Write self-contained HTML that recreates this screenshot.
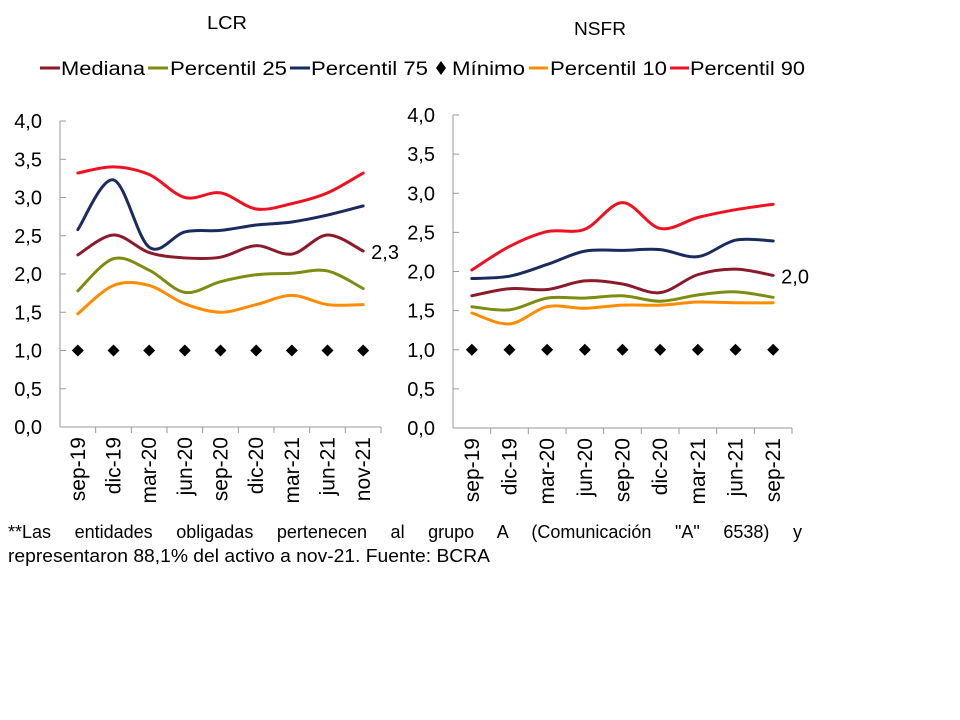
<!DOCTYPE html>
<html><head><meta charset="utf-8"><style>
html,body{margin:0;padding:0;background:#fff;width:960px;height:720px;overflow:hidden}
svg{display:block;font-family:"Liberation Sans",sans-serif}
</style></head><body>
<svg id="s" width="960" height="720" xmlns="http://www.w3.org/2000/svg">
<text x="227" y="29" font-size="18" text-anchor="middle" textLength="40" lengthAdjust="spacingAndGlyphs">LCR</text>
<text x="600" y="35" font-size="18" text-anchor="middle" textLength="52" lengthAdjust="spacingAndGlyphs">NSFR</text>
<g font-size="19">
<line x1="40" y1="68" x2="60" y2="68" stroke="#8b1a2b" stroke-width="3"/>
<text x="61" y="75" textLength="84" lengthAdjust="spacingAndGlyphs">Mediana</text>
<line x1="148" y1="68" x2="168" y2="68" stroke="#7f8c12" stroke-width="3"/>
<text x="170" y="75" textLength="117" lengthAdjust="spacingAndGlyphs">Percentil 25</text>
<line x1="290" y1="68" x2="310" y2="68" stroke="#1a2b5e" stroke-width="3"/>
<text x="311" y="75" textLength="117" lengthAdjust="spacingAndGlyphs">Percentil 75</text>
<polygon points="441,61 446,68 441,75 436,68" fill="#000"/>
<text x="452" y="75" textLength="73" lengthAdjust="spacingAndGlyphs">Mínimo</text>
<line x1="529" y1="68" x2="548" y2="68" stroke="#ff8c00" stroke-width="3"/>
<text x="550" y="75" textLength="117" lengthAdjust="spacingAndGlyphs">Percentil 10</text>
<line x1="670" y1="68" x2="689" y2="68" stroke="#ee1122" stroke-width="3"/>
<text x="690" y="75" textLength="115" lengthAdjust="spacingAndGlyphs">Percentil 90</text>
</g>
<g id="g"></g>
<g font-size="18">
<text id="l1" x="8" y="538" style="word-spacing:16px">**Las entidades obligadas pertenecen al grupo A (Comunicación "A" 6538) y</text>
<text x="8" y="562" textLength="482" lengthAdjust="spacingAndGlyphs">representaron 88,1% del activo a nov-21. Fuente: BCRA</text>
</g>
</svg>
<script>
var NS="http://www.w3.org/2000/svg",g=document.getElementById("g");
function el(t,a,txt){var e=document.createElementNS(NS,t);for(var k in a)e.setAttribute(k,a[k]);if(txt!=null)e.textContent=txt;g.appendChild(e);return e;}
(function(){var l=document.getElementById("l1");l.style.wordSpacing="0px";var w=l.getComputedTextLength();
 var ws=(794-w)/10; if(ws>0&&ws<60) l.style.wordSpacing=ws+"px"; else l.style.wordSpacing="16px";})();
function path(pts){var d="M"+pts[0][0]+","+pts[0][1];for(var i=0;i<pts.length-1;i++){var p0=pts[i-1]||pts[i],p1=pts[i],p2=pts[i+1],p3=pts[i+2]||p2;var t=6;d+=" C"+(p1[0]+(p2[0]-p0[0])/t)+","+(p1[1]+(p2[1]-p0[1])/t)+" "+(p2[0]-(p3[0]-p1[0])/t)+","+(p2[1]-(p3[1]-p1[1])/t)+" "+p2[0]+","+p2[1];}return d;}
var cols={med:"#8b1a2b",p25:"#7f8c12",p75:"#1a2b5e",p10:"#ff8c00",p90:"#ee1122"};
function chart(c){
 var x0=c.x0,x1=c.x1,yT=c.yT,yB=c.yB,sc=(yB-yT)/4;
 el("line",{x1:x0,y1:yT,x2:x0,y2:yB,stroke:"#999","stroke-width":1});
 el("line",{x1:x0,y1:yB,x2:x1,y2:yB,stroke:"#999","stroke-width":1});
 for(var i=0;i<=8;i++){var y=yB-i*sc/2;el("line",{x1:x0,y1:y,x2:x0+6,y2:y,stroke:"#999"});
  el("text",{x:x0-18,y:y+7,"font-size":20,"text-anchor":"end"},(i/2).toFixed(1).replace(".",","));}
 var n=9,w=(x1-x0)/n;
 for(var i=1;i<=n;i++){var x=x0+i*w;el("line",{x1:x,y1:yB,x2:x,y2:yB+6,stroke:"#999"});}
 for(var i=0;i<n;i++){var x=x0+(i+0.5)*w;el("text",{transform:"translate("+(x+7)+","+(yB+10)+") rotate(-90)","font-size":21,"text-anchor":"end"},c.lab[i]);
  el("polygon",{points:(x)+","+(yB-sc-6)+" "+(x+6)+","+(yB-sc)+" "+(x)+","+(yB-sc+6)+" "+(x-6)+","+(yB-sc),fill:"#000"});}
 ["p10","p25","med","p75","p90"].forEach(function(k){var pts=c[k].map(function(v,i){return [x0+(i+0.5)*w,yB-v*sc];});
  el("path",{d:path(pts),fill:"none",stroke:cols[k],"stroke-width":3,"stroke-linecap":"round"});});
 var lv=c.med[8];el("text",{x:x0+8.5*w+8,y:yB-lv*sc+8,"font-size":20},c.lbl);
}
chart({x0:60,x1:381,yT:121,yB:427,lbl:"2,3",lab:["sep-19","dic-19","mar-20","jun-20","sep-20","dic-20","mar-21","jun-21","nov-21"],
 p90:[3.32,3.40,3.30,3.00,3.06,2.85,2.92,3.06,3.32],
 p75:[2.58,3.23,2.35,2.55,2.57,2.64,2.68,2.77,2.89],
 med:[2.25,2.51,2.28,2.21,2.22,2.37,2.26,2.51,2.30],
 p25:[1.78,2.20,2.05,1.76,1.90,1.99,2.01,2.04,1.81],
 p10:[1.48,1.85,1.85,1.61,1.50,1.60,1.72,1.60,1.60]});
chart({x0:453,x1:792,yT:115,yB:428,lbl:"2,0",lab:["sep-19","dic-19","mar-20","jun-20","sep-20","dic-20","mar-21","jun-21","sep-21"],
 p90:[2.02,2.32,2.51,2.54,2.88,2.55,2.69,2.79,2.86],
 p75:[1.91,1.94,2.09,2.26,2.27,2.28,2.19,2.40,2.39],
 med:[1.69,1.78,1.77,1.88,1.84,1.73,1.96,2.03,1.95],
 p25:[1.55,1.51,1.66,1.66,1.69,1.62,1.70,1.74,1.67],
 p10:[1.47,1.33,1.55,1.53,1.57,1.57,1.61,1.60,1.60]});
</script>
</body></html>
